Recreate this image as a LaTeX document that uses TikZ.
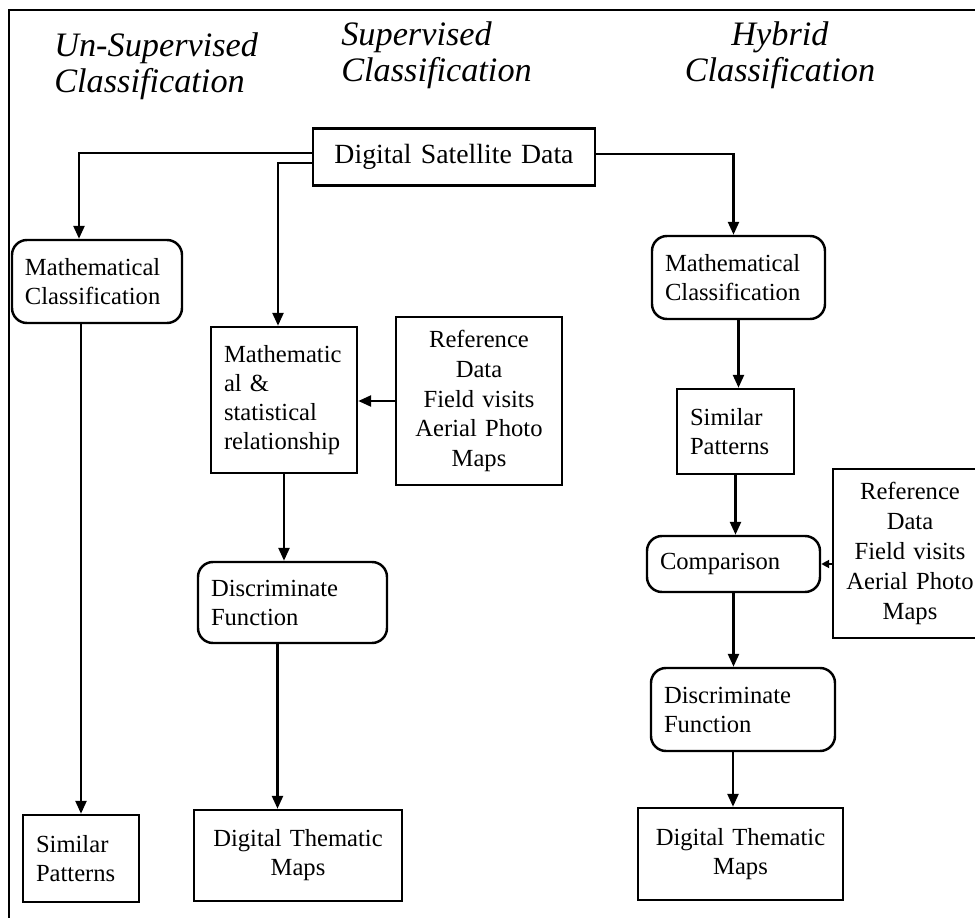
\documentclass[tikz,border=0pt]{standalone}
\usepackage{fontspec}
\setmainfont{Liberation Serif}
\usetikzlibrary{arrows.meta,calc}

\begin{document}
\begin{tikzpicture}[>={Triangle[length=2.6mm,width=2.2mm]},
  box/.style={draw,line width=1.4pt,inner xsep=0.26cm,inner ysep=0pt,align=left,
    font=\fontsize{14}{16.5}\selectfont},
  rbox/.style={box,rounded corners=0.3cm},
  cbox/.style={box,align=center,inner xsep=0pt},
  title/.style={inner sep=0pt,font=\fontsize{19.5}{20.5}\selectfont\itshape},
  arr/.style={->,line width=1.4pt}]
\useasboundingbox (0,0) rectangle (19.5,-18.36);
% frame
\draw[line width=1.4pt] (0.18,-18.36)--(0.18,-0.2)--(19.5,-0.2);
% column titles
\node[title,anchor=north west,align=left] (tun) at (1.08,-0.64) {Un-Supervised\\Classification};
\node[title,anchor=north west,align=left] (tsup) at (6.82,-0.42) {Supervised\\Classification};
\node[title,anchor=north,align=center] (thyb) at (15.6,-0.42) {Hybrid\\Classification};
% source
\node[cbox,text width=5.64cm,minimum height=1.14cm,font=\fontsize{15.8}{18}\selectfont] (dsd) at (9.08,-3.14) {Digital Satellite Data};
% un-supervised
\node[rbox,text width=2.88cm,minimum height=1.66cm] (mone) at (1.94,-5.63) {Mathematical\\Classification};
\node[box,text width=1.80cm,minimum height=1.74cm] (spone) at (1.62,-17.17) {Similar\\Patterns};
% supervised
\node[box,text width=2.40cm,minimum height=2.92cm] (mtwo) at (5.68,-8.0) {Mathematic\\al \&\\statistical\\relationship};
\node[cbox,text width=3.32cm,minimum height=3.36cm,font=\fontsize{14}{17}\selectfont] (refone) at (9.58,-8.02) {Reference\\Data\\Field visits\\Aerial Photo\\Maps};
\node[rbox,text width=3.26cm,minimum height=1.62cm] (dfone) at (5.85,-12.05) {Discriminate\\Function};
\node[cbox,text width=4.16cm,minimum height=1.82cm] (dtmone) at (5.96,-17.11) {Digital Thematic\\Maps};
% hybrid
\node[rbox,text width=2.94cm,minimum height=1.66cm] (mthree) at (14.77,-5.55) {Mathematical\\Classification};
\node[box,text width=1.82cm,minimum height=1.7cm] (spthree) at (14.71,-8.63) {Similar\\Patterns};
\node[rbox,text width=2.94cm,minimum height=1.12cm] (cmp) at (14.67,-11.28) {Comparison};
\node[cbox,text width=3.08cm,minimum height=3.38cm,font=\fontsize{14}{17}\selectfont] (refthree) at (18.2,-11.07) {Reference\\Data\\Field visits\\Aerial Photo\\Maps};
\node[rbox,text width=3.16cm,minimum height=1.66cm] (dfthree) at (14.86,-14.19) {Discriminate\\Function};
\node[cbox,text width=4.1cm,minimum height=1.84cm] (dtmthree) at (14.81,-17.08) {Digital Thematic\\Maps};
% connectors
\draw[arr] ([yshift=0.08cm]dsd.west) -| ([xshift=-0.36cm]mone.north);
\draw[arr] ([yshift=-0.12cm]dsd.west) -| ([xshift=-0.12cm]mtwo.north);
\draw[arr] ([yshift=0.06cm]dsd.east) -| ([xshift=-0.1cm]mthree.north);
\draw[arr] (mone.south -| spone.north) -- (spone.north);
\draw[arr] (mtwo.south) -- (mtwo.south |- dfone.north);
\draw[arr] ([xshift=-0.3cm]dfone.south) -- ([xshift=-0.3cm]dfone.south |- dtmone.north);
\draw[arr] (refone.west) -- (refone.west -| mtwo.east);
\draw[arr] (mthree.south) -- (mthree.south |- spthree.north);
\draw[arr] (spthree.south) -- (spthree.south |- cmp.north);
\draw[arr,>={Triangle[length=1.6mm,width=1.6mm]}] (cmp.east -| refthree.west) -- (cmp.east);
\draw[arr] (cmp.south) -- (cmp.south |- dfthree.north);
\draw[arr] ([xshift=-0.2cm]dfthree.south) -- ([xshift=-0.2cm]dfthree.south |- dtmthree.north);
\end{tikzpicture}
\end{document}
